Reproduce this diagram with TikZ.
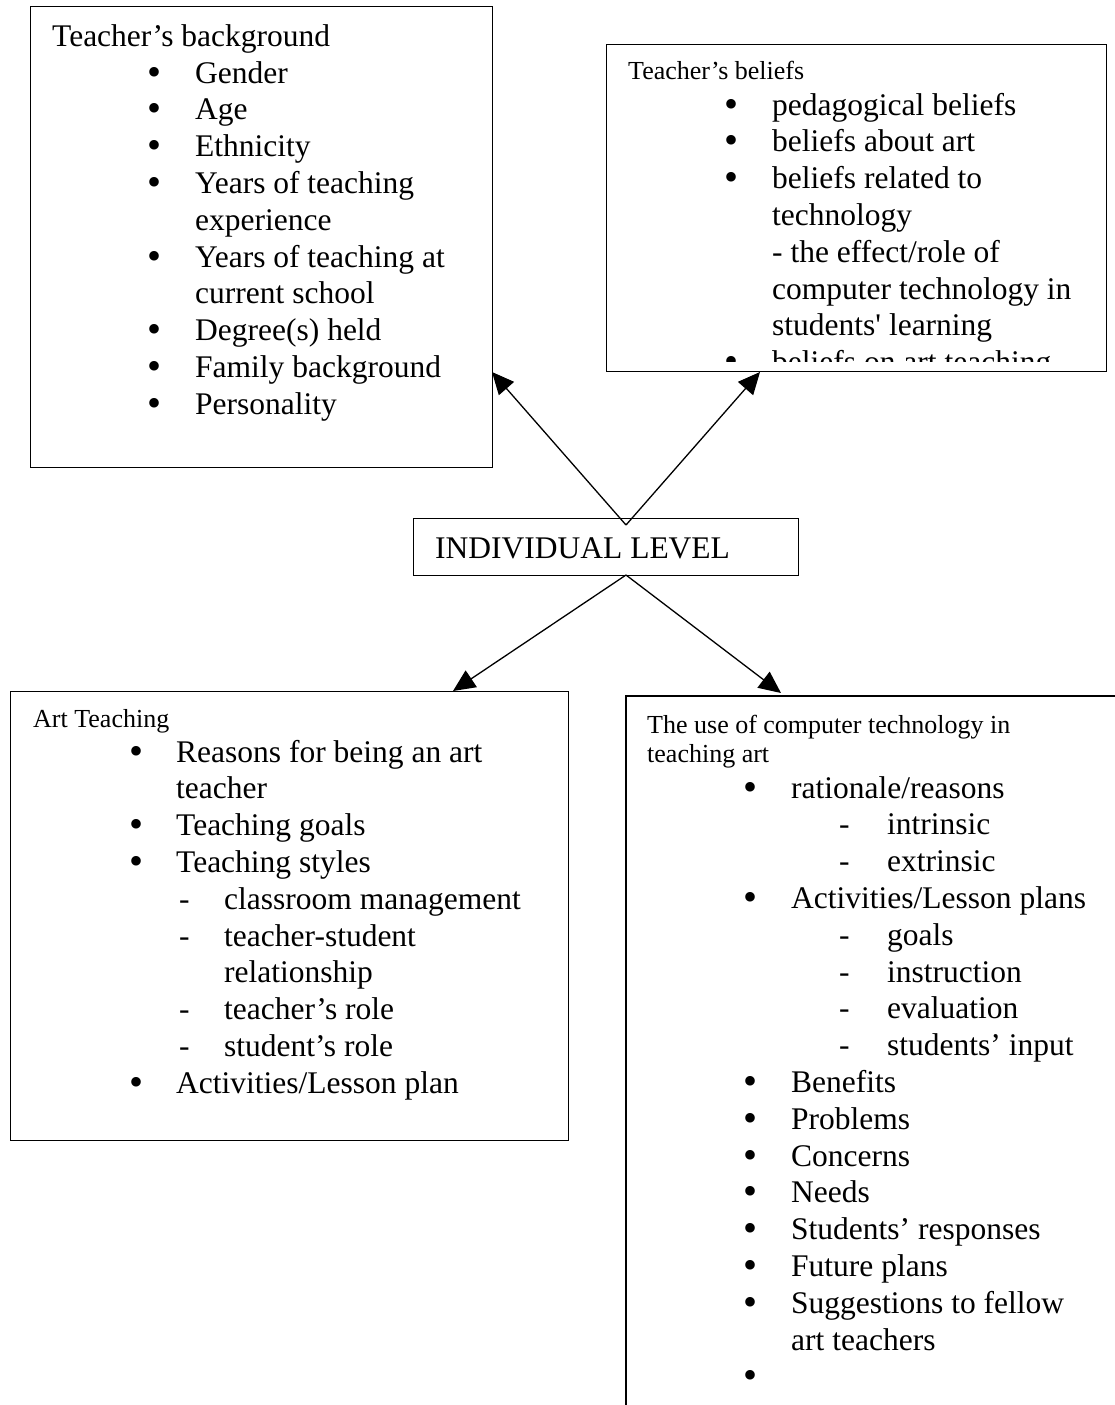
\documentclass[tikz,border=0pt]{standalone}
\usepackage{fontspec}
\setmainfont{Liberation Serif}
\newfontfamily\rawserif{Liberation Serif}
\usetikzlibrary{arrows.meta}
\newcommand\Bul[3]{\node[big] (#1) at (#2,#3) {\raisebox{-2pt}{\fontsize{40}{40}\selectfont •}};}
\newcommand\Dsh[3]{\node[big] (#1) at (#2,#3) {-};}
\newcommand\Txt[4]{\node[big] (#1) at (#2,#3) {#4};}
\begin{document}
\begin{tikzpicture}[x=1pt,y=-1pt,
  box/.style={draw,line width=1.4pt,inner sep=0pt,anchor=north west},
  big/.style={anchor=base west,inner sep=0pt,font=\fontsize{31.5}{37}\selectfont},
  small/.style={anchor=base west,inner sep=0pt,font=\fontsize{26}{29}\selectfont},
  conn/.style={line width=1.3pt,-{Triangle[length=22pt,width=20pt]}}]
\useasboundingbox[fill=white] (0,0) rectangle (1115,1405);

% ---------- boxes ----------
\node[box,minimum width=462pt,minimum height=461pt] (bg) at (30,6) {};
\node[box,minimum width=500pt,minimum height=327pt] (bel) at (606,44) {};
\node[box,minimum width=385pt,minimum height=57pt] (ind) at (413,518) {};
\node[box,minimum width=558pt,minimum height=449pt] (art) at (10,691) {};
\coordinate (useTR) at (1115,696);
\coordinate (useTL) at (626,696);
\coordinate (useBL) at (626,1405);
\draw[line width=1.4pt] (useTR) -- (useTL) -- (useBL);

% ---------- connectors ----------
\coordinate (apexU) at (626,525);
\coordinate (apexD) at (626,575);
\coordinate (tipBg) at (492,372);
\coordinate (tipBel) at (760,372);
\coordinate (tipArt) at (453,691);
\coordinate (tipUse) at (781,693);
\draw[conn] (apexU) -- (tipBg);
\draw[conn] (apexU) -- (tipBel);
\draw[conn] (apexD) -- (tipArt);
\draw[conn] (apexD) -- (tipUse);

% ---------- INDIVIDUAL LEVEL ----------
\Txt{indT}{435}{558}{INDIVIDUAL LEVEL}

% ---------- Teacher's background ----------
\Txt{bgT}{52}{47}{Teacher’s background}
\Bul{bgB1}{147}{83}      \Txt{bg1}{195}{83}{Gender}
\Bul{bgB2}{147}{119.8}   \Txt{bg2}{195}{119.8}{Age}
\Bul{bgB3}{147}{156.6}   \Txt{bg3}{195}{156.6}{Ethnicity}
\Bul{bgB4}{147}{193.4}   \Txt{bg4}{195}{193.4}{Years of teaching}
                         \Txt{bg4b}{195}{230.2}{experience}
\Bul{bgB5}{147}{267}     \Txt{bg5}{195}{267}{Years of teaching at}
                         \Txt{bg5b}{195}{303.8}{current school}
\Bul{bgB6}{147}{340.6}   \Txt{bg6}{195}{340.6}{Degree(s) held}
\Bul{bgB7}{147}{377.4}   \Txt{bg7}{195}{377.4}{Family background}
\Bul{bgB8}{147}{414.2}   \Txt{bg8}{195}{414.2}{Personality}

% ---------- Teacher's beliefs ----------
\node[small] (belT) at (628,80) {Teacher’s beliefs};
\begin{scope}
\clip (607,45) rectangle (1105,361);
\Bul{belB1}{724}{115}    \Txt{bel1}{772}{115}{pedagogical beliefs}
\Bul{belB2}{724}{151.8}  \Txt{bel2}{772}{151.8}{beliefs about art}
\Bul{belB3}{724}{188.6}  \Txt{bel3}{772}{188.6}{beliefs related to}
                         \Txt{bel3b}{772}{225.4}{technology}
                         \Txt{bel3c}{772}{262.2}{- the effect/role of}
                         \Txt{bel3d}{772}{299}{computer technology in}
                         \Txt{bel3e}{772}{335.8}{students{\rawserif'} learning}
\Bul{belB4}{724}{372.6}  \Txt{bel4}{772}{372.6}{beliefs on art teaching}
\end{scope}

% ---------- Art Teaching ----------
\node[small] (artT) at (33,727) {Art Teaching};
\Bul{artB1}{129}{762}    \Txt{art1}{176}{762}{Reasons for being an art}
                         \Txt{art1b}{176}{798.8}{teacher}
\Bul{artB2}{129}{835.6}  \Txt{art2}{176}{835.6}{Teaching goals}
\Bul{artB3}{129}{872.4}  \Txt{art3}{176}{872.4}{Teaching styles}
\Dsh{artD1}{179}{909.2}  \Txt{art3a}{224}{909.2}{classroom management}
\Dsh{artD2}{179}{946}    \Txt{art3b}{224}{946}{teacher-student}
                         \Txt{art3c}{224}{982.8}{relationship}
\Dsh{artD3}{179}{1019.6} \Txt{art3d}{224}{1019.6}{teacher’s role}
\Dsh{artD4}{179}{1056.4} \Txt{art3e}{224}{1056.4}{student’s role}
\Bul{artB4}{129}{1093.2} \Txt{art4}{176}{1093.2}{Activities/Lesson plan}

% ---------- The use of computer technology ----------
\node[small] (useT1) at (647,733) {The use of computer technology in};
\node[small] (useT2) at (647,762) {teaching art};
\Bul{useB1}{743}{798}     \Txt{use1}{791}{798}{rationale/reasons}
\Dsh{useD1}{839}{834.8}   \Txt{use1a}{887}{834.8}{intrinsic}
\Dsh{useD2}{839}{871.6}   \Txt{use1b}{887}{871.6}{extrinsic}
\Bul{useB2}{743}{908.4}   \Txt{use2}{791}{908.4}{Activities/Lesson plans}
\Dsh{useD3}{839}{945.2}   \Txt{use2a}{887}{945.2}{goals}
\Dsh{useD4}{839}{982}     \Txt{use2b}{887}{982}{instruction}
\Dsh{useD5}{839}{1018.8}  \Txt{use2c}{887}{1018.8}{evaluation}
\Dsh{useD6}{839}{1055.6}  \Txt{use2d}{887}{1055.6}{students’ input}
\Bul{useB3}{743}{1092.4}  \Txt{use3}{791}{1092.4}{Benefits}
\Bul{useB4}{743}{1129.2}  \Txt{use4}{791}{1129.2}{Problems}
\Bul{useB5}{743}{1166}    \Txt{use5}{791}{1166}{Concerns}
\Bul{useB6}{743}{1202.8}  \Txt{use6}{791}{1202.8}{Needs}
\Bul{useB7}{743}{1239.6}  \Txt{use7}{791}{1239.6}{Students’ responses}
\Bul{useB8}{743}{1276.4}  \Txt{use8}{791}{1276.4}{Future plans}
\Bul{useB9}{743}{1313.2}  \Txt{use9}{791}{1313.2}{Suggestions to fellow}
                          \Txt{use9b}{791}{1350}{art teachers}
\Bul{useB10}{743}{1386.8}
\end{tikzpicture}
\end{document}
